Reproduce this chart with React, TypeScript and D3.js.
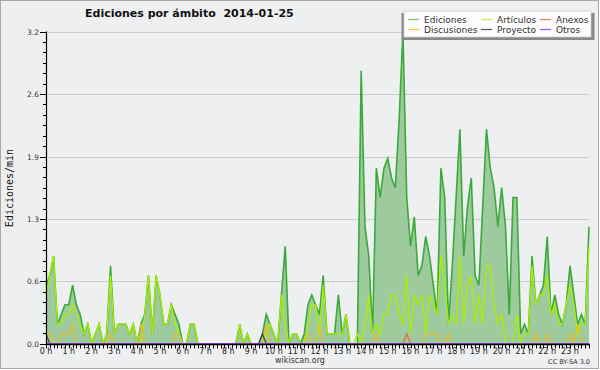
import React from "react";
import * as d3 from "d3";

// tick labels
const hourLabels = ["0 h", "1 h", "2 h", "3 h", "4 h", "5 h", "6 h", "7 h", "8 h", "9 h", "10 h", "11 h",
  "12 h", "13 h", "14 h", "15 h", "16 h", "17 h", "18 h", "19 h", "20 h", "21 h", "22 h", "23 h"];
const yTicks = [0, 0.64, 1.28, 1.92, 2.56, 3.2];

// edits per minute, one value per 10 minute slot (144 slots)
const ediciones = [
  0.6, 0.7, 0.9, 0.2, 0.3, 0.4, 0.4, 0.6, 0.4, 0.3, 0.1, 0.2,
  0, 0.1, 0.2, 0, 0.1, 0.8, 0.1, 0.2, 0.2, 0.2, 0.1, 0.2,
  0, 0.2, 0.3, 0.7, 0.1, 0.7, 0.5, 0.2, 0.2, 0.4, 0.3, 0.2,
  0, 0, 0.2, 0.2, 0, 0, 0, 0, 0, 0, 0, 0,
  0, 0, 0, 0.2, 0, 0.1, 0, 0, 0, 0.1, 0.3, 0.2,
  0.1, 0, 0.5, 1.0, 0, 0.1, 0.1, 0, 0.1, 0.4, 0.5, 0.4,
  0.3, 0.7, 0.1, 0.1, 0.1, 0.5, 0.1, 0.3, 0, 0, 0, 2.8,
  1.2, 0.9, 0.1, 1.8, 1.5, 1.8, 1.9, 1.7, 1.6, 2.3, 3.2, 1.5,
  1.0, 1.3, 0.7, 0.8, 1.1, 0.9, 0.6, 0.3, 1.8, 1.5, 0.2, 0.8,
  1.5, 2.2, 0.9, 1.4, 1.7, 0.7, 0.6, 1.4, 2.2, 1.8, 1.6, 1.2,
  1.6, 1.2, 0.3, 1.5, 1.5, 0.1, 0.2, 0.1, 0.9, 0.4, 0.5, 0.6,
  1.1, 0.3, 0.5, 0.3, 0.2, 0.4, 0.8, 0.5, 0.2, 0.3, 0.2, 1.2,
];

const articulos = [
  0.5, 0.7, 0.9, 0.2, 0.2, 0.3, 0.3, 0.4, 0.3, 0.2, 0.1, 0.2,
  0, 0.1, 0.2, 0, 0.1, 0.7, 0.1, 0.2, 0.2, 0.2, 0.1, 0.2,
  0, 0, 0.3, 0.7, 0.1, 0.7, 0.5, 0.2, 0.2, 0.4, 0.2, 0.1,
  0, 0, 0.2, 0.2, 0, 0, 0, 0, 0, 0, 0, 0,
  0, 0, 0, 0.2, 0, 0.1, 0, 0, 0, 0, 0.1, 0.2,
  0.1, 0, 0.5, 0.2, 0, 0.1, 0.1, 0, 0, 0.2, 0.4, 0.4,
  0.1, 0.6, 0.1, 0.1, 0.1, 0.1, 0.1, 0.3, 0, 0, 0.1, 0,
  0.2, 0.5, 0.1, 0.2, 0.1, 0.3, 0.3, 0.5, 0.5, 0.3, 0.2, 0.7,
  0.1, 0.5, 0.4, 0.5, 0.1, 0.5, 0.4, 0.3, 0.9, 0.6, 0.2, 0.3,
  0.2, 0.9, 0.2, 0.6, 0.7, 0.2, 0.5, 0.2, 0.8, 0.8, 0.4, 0.2,
  0.3, 0, 0, 0, 0.3, 0, 0.1, 0.1, 0.8, 0.4, 0.5, 0.5,
  0.7, 0.3, 0.4, 0.2, 0.2, 0.4, 0.6, 0.4, 0.1, 0.2, 0.2, 1.0,
];

const discusiones = [
  0.1, 0.1, 0, 0, 0.1, 0.1, 0.1, 0.2, 0, 0, 0, 0,
  0, 0, 0, 0, 0, 0.1, 0, 0, 0, 0, 0, 0,
  0, 0.2, 0, 0, 0, 0, 0, 0, 0, 0, 0.1, 0.1,
  0, 0, 0, 0, 0, 0, 0, 0, 0, 0, 0, 0,
  0, 0, 0, 0, 0, 0, 0, 0, 0, 0, 0.2, 0,
  0, 0, 0, 0, 0, 0, 0, 0, 0, 0.1, 0, 0,
  0.2, 0, 0, 0, 0, 0, 0, 0, 0, 0, 0, 0,
  0, 0, 0, 0.1, 0, 0, 0, 0, 0, 0, 0, 0,
  0, 0, 0, 0, 0.1, 0.1, 0.1, 0.1, 0, 0, 0.1, 0,
  0, 0, 0, 0, 0, 0, 0, 0, 0, 0, 0, 0,
  0, 0, 0, 0, 0, 0, 0, 0, 0, 0.1, 0, 0,
  0.1, 0, 0, 0, 0, 0, 0.1, 0, 0.2, 0, 0, 0,
];

const anexos = [
  0, 0, 0, 0, 0, 0, 0, 0, 0, 0, 0, 0,
  0, 0, 0, 0, 0, 0, 0, 0, 0, 0, 0, 0,
  0, 0, 0, 0, 0, 0, 0, 0, 0, 0, 0, 0,
  0, 0, 0, 0, 0, 0, 0, 0, 0, 0, 0, 0,
  0, 0, 0, 0, 0, 0, 0, 0, 0, 0, 0, 0,
  0, 0, 0, 0, 0, 0, 0, 0, 0, 0, 0, 0,
  0, 0, 0, 0, 0, 0, 0, 0, 0, 0, 0, 0,
  0, 0, 0, 0, 0, 0, 0, 0, 0, 0, 0, 0.1,
  0, 0, 0, 0, 0, 0, 0, 0, 0, 0, 0, 0,
  0, 0, 0, 0, 0, 0, 0, 0, 0, 0, 0, 0,
  0, 0, 0, 0, 0, 0, 0, 0, 0, 0, 0, 0,
  0, 0, 0, 0, 0, 0, 0, 0, 0, 0, 0, 0,
];

const proyecto = [
  0.1, 0, 0, 0, 0, 0, 0, 0, 0, 0, 0, 0,
  0, 0, 0, 0, 0, 0, 0, 0, 0, 0, 0, 0,
  0, 0, 0, 0, 0, 0, 0, 0, 0, 0, 0, 0,
  0, 0, 0, 0, 0, 0, 0, 0, 0, 0, 0, 0,
  0, 0, 0, 0, 0, 0, 0, 0, 0, 0.1, 0, 0,
  0, 0, 0, 0, 0, 0, 0, 0, 0, 0, 0, 0,
  0, 0, 0, 0, 0, 0, 0, 0, 0, 0, 0, 0,
  0, 0, 0, 0, 0, 0, 0, 0, 0, 0, 0, 0,
  0, 0, 0, 0, 0, 0, 0, 0, 0, 0, 0, 0,
  0, 0, 0, 0, 0, 0, 0, 0, 0, 0, 0, 0,
  0, 0, 0, 0, 0, 0, 0, 0, 0, 0, 0, 0,
  0, 0, 0, 0, 0, 0, 0, 0, 0, 0, 0, 0,
];

const otros = [
  0, 0, 0, 0, 0, 0, 0, 0, 0, 0, 0, 0,
  0, 0, 0, 0, 0, 0, 0, 0, 0, 0, 0, 0,
  0, 0, 0, 0, 0, 0, 0, 0, 0, 0, 0, 0,
  0, 0, 0, 0, 0, 0, 0, 0, 0, 0, 0, 0,
  0, 0, 0, 0, 0, 0, 0, 0, 0, 0, 0, 0,
  0, 0, 0, 0, 0, 0, 0, 0, 0, 0, 0, 0,
  0, 0, 0, 0, 0, 0, 0, 0, 0, 0, 0, 0,
  0, 0, 0, 0, 0, 0, 0, 0, 0, 0, 0, 0,
  0, 0, 0, 0, 0, 0, 0, 0, 0, 0, 0, 0,
  0, 0, 0, 0, 0, 0, 0, 0, 0, 0, 0, 0,
  0, 0, 0, 0, 0, 0, 0, 0, 0, 0, 0, 0,
  0, 0, 0, 0, 0, 0, 0, 0, 0, 0, 0, 0,
];

const font = "'DejaVu Sans', Verdana, sans-serif";

export default function App() {
  const width = 600, height = 370;
  const x = d3.scaleLinear().domain([0, 143]).range([46, 589]);
  const y = d3.scaleLinear().domain([0, 3.2]).range([343.7, 31.7]);
  const slots = d3.range(ediciones.length);
  const line = d3.line<number>().x((d, i) => x(i)).y(d => y(d));
  const area = d3.area<number>().x((d, i) => x(i)).y0(y(0)).y1(d => y(d));
  const minorY = d3.range(0, 31).map(k => (3.2 * k) / 30);

  const series = [
    { data: articulos, color: "#aaee00", w: 1.3 },
    { data: discusiones, color: "#eebb22", w: 1.2 },
    { data: anexos, color: "#ee6633", w: 1.2 },
    { data: proyecto, color: "#444444", w: 1.2 },
    { data: otros, color: "#9944ee", w: 1.2 },
  ];

  const legend = [
    { label: "Ediciones", color: "#77c277", x: 408, y: 19 },
    { label: "Discusiones", color: "#f4c94a", x: 408, y: 29 },
    { label: "Artículos", color: "#cdee55", x: 481, y: 19 },
    { label: "Proyecto", color: "#555555", x: 481, y: 29 },
    { label: "Anexos", color: "#f08050", x: 540, y: 19 },
    { label: "Otros", color: "#9955ee", x: 540, y: 29 },
  ];

  return (
    <svg width={width} height={height} style={{ position: "absolute", left: 0, top: 0 }}
      fontFamily={font}>
      <rect x={0.5} y={0.5} width={598} height={368} fill="#eeeff1" stroke="#a8a8a8" />

      {/* grid */}
      {yTicks.slice(1).map(t => (
        <line key={t} x1={46} x2={589} y1={Math.round(y(t)) + 0.5} y2={Math.round(y(t)) + 0.5}
          stroke="#cccccc" strokeWidth={1.2} />
      ))}

      {/* series */}
      <path d={area(ediciones) || ""} fill="#9dcb9d" />
      <path d={line(ediciones) || ""} fill="none" stroke="#3aaa3a" strokeWidth={1.6} />
      {series.map((s, k) => (
        <path key={k} d={line(s.data) || ""} fill="none" stroke={s.color} strokeWidth={s.w} />
      ))}

      {/* y axis */}
      <line x1={46.5} x2={46.5} y1={31.5} y2={344.5} stroke="#000" strokeWidth={1.2} />
      {minorY.map((t, k) => (
        <line key={k} x1={k % 6 === 0 ? 40 : 43} x2={46} y1={Math.round(y(t)) + 0.5}
          y2={Math.round(y(t)) + 0.5} stroke="#000" />
      ))}
      {yTicks.map(t => (
        <text key={t} x={39} y={y(t) + 3} textAnchor="end" fontSize={7.5} fill="#333">
          {t.toFixed(1)}
        </text>
      ))}
      <text transform="translate(13,188) rotate(-90)" textAnchor="middle" fontSize={10}
        fontFamily="'DejaVu Sans Mono', monospace" fill="#111">Ediciones/min</text>

      {/* x axis */}
      <line x1={46} x2={590} y1={344.5} y2={344.5} stroke="#000" strokeWidth={1.4} />
      {slots.map(i => (
        <line key={i} x1={Math.round(x(i)) + 0.5} x2={Math.round(x(i)) + 0.5} y1={344} y2={348.5}
          stroke="#000" />
      ))}
      {hourLabels.map((h, k) => (
        <text key={h} x={x(k * 6)} y={354} textAnchor="middle" fontSize={8} fill="#222">{h}</text>
      ))}

      {/* title */}
      <text x={85} y={17} fontSize={11} fontWeight="bold" fill="#111">
        Ediciones por ámbito{"\u00a0\u00a0"}2014-01-25
      </text>

      {/* legend */}
      <rect x={401.5} y={13} width={193} height={27} fill="#888888" />
      <rect x={404} y={11} width={187} height={26} fill="#fcfcfc" stroke="#cfcfcf" strokeWidth={0.8} />
      {legend.map(l => (
        <g key={l.label}>
          <line x1={l.x} x2={l.x + 11} y1={l.y + 0.5} y2={l.y + 0.5} stroke={l.color} strokeWidth={1.2} />
          <text x={l.x + 16} y={l.y + 3.5} fontSize={9} fill="#333">{l.label}</text>
        </g>
      ))}

      {/* footer */}
      <text x={300} y={363} textAnchor="middle" fontSize={8} fill="#333">wikiscan.org</text>
      <text x={590} y={364} textAnchor="end" fontSize={6.5} fill="#333">CC BY-SA 3.0</text>
    </svg>
  );
}
